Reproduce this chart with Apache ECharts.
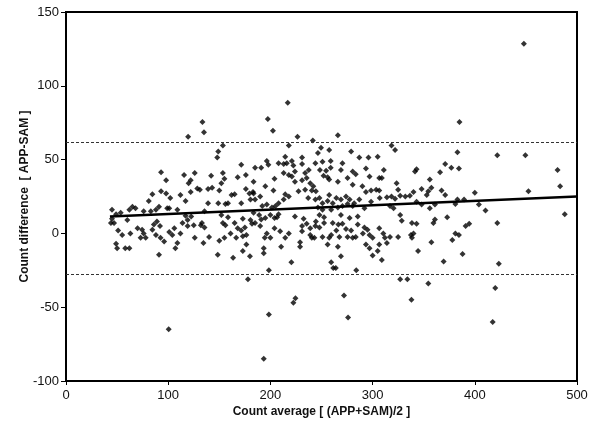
<!DOCTYPE html>
<html>
<head>
<meta charset="utf-8">
<script src="https://cdn.jsdelivr.net/npm/echarts@6/dist/echarts.min.js"></script>
<style>
  html, body { margin: 0; padding: 0; background: #fff; }
  #chart { width: 595px; height: 433px; }
</style>
</head>
<body>
<div id="chart"></div>
<script>
// Bland-Altman: APP vs SAM

// points: [count average, count difference]
var points = [
    // far left cluster
    [45,16],[49,13],[53.5,14],[45,10],[44,7],[47,7],[51,2],[55,-1],[49,-7],[50,-10],[58,-10],
    // 60 - 120
    [93,41.5],[98,36],[115.5,39.5],[120,34],[93,28.5],[98,27],[84.5,26.5],[102,24],[81,22],[112,26],
    [117,22],[91,18],[99,17],[101,17],[62,16],[65,18],[68,17],[76,15],[83,15],[88,16],[109,16],[117,12],
    [60,9],[70,3.5],[63,0],[74.5,2.5],[76,0],[73,-3],[78,-3],[84.5,2.5],[86,6],[89,8],[92,5],[88,-1],
    [92.5,-3],[96,-5.5],[101,1],[104,-1],[106,3.5],[109,-6.5],[107,-10],[112,0],[114,7],[119,5],
    [62,-10],[91,-14.5],[119,9],
    // 120 - 185
    [153.5,59.5],[149,55.5],[148,51.5],[171.5,46.5],[126,41],[122,36],[142,39],[153.5,41],[155,37],
    [152,34],[168,38],[176,39.5],[128.5,30.5],[131,29.5],[122,28],[139,30],[143,31],[150,29],[162,26],
    [165,26.5],[176,30],[179.5,27],[183,28],[180.5,23],[139,20.5],[149,20.5],[156,20],[158.5,20.5],
    [171.5,20.5],[135.5,15],[122.5,11.5],[125,5.5],[133,7],[132,5.5],[135.5,4],[152,12.5],[158.5,11],
    [153.5,7],[156,5.5],[165,7],[173,10],[168,3.5],[171.5,2],[180.5,9],[182,6.5],[126,-3],[134.5,-6.5],
    [140,-2.5],[150,-5],[155,-3],[161,0],[166.5,-3],[173,-2],[175,4],[176.5,-1],[148.5,-14.5],
    [163.5,-16.5],[173,-12],[180,-15.5],[176.5,-7.5],
    // 185 - 245
    [218,59.5],[214.5,52],[208,47.5],[213,47],[216,47.5],[221,49],[231,51.5],[196.5,49],[198,46.5],
    [185,44.5],[191,44.5],[222.5,46],[231,47],[237.5,43],[244,47.5],[213,41],[218,39.5],[221,38.5],
    [224,42],[234,41],[231,36],[183.5,35],[204,37],[195,32],[224,35],[235.5,37.5],[239,34],[242,32],
    [203,29],[183.5,27],[190,25],[185,23],[227.5,28.5],[234,29.5],[240.5,29],[237,24],[244,23],
    [214.5,26.5],[218,25],[213,23],[208,20.5],[205,18.5],[192,18.5],[196.5,19.5],[201.5,17.5],
    [183.5,14],[189,12.5],[195,10.5],[191,9.5],[185,7],[200,12.5],[206.5,11],[208,13],[204,10.5],
    [224,11.5],[232.5,10],[235.5,6.5],[231,5],[239,3.5],[244,5],[190,5],[196.5,0],[194.5,-3],
    [204,3.5],[209.5,1.5],[218,0],[214.5,-3],[231,1.5],[239,-1],[240.5,-3],[200,-3],[210.5,-9],
    [229,-6],[229,-9],[243,-3],[193.5,-10],[193.5,-13.5],[220.5,-19.5],
    // 245 - 308
    [249.5,58],[257.5,56.5],[246.5,54.5],[279,55.5],[287,51.5],[296,51.5],[305,52],[251,48.5],
    [259,49],[259,44.5],[269,43],[270.5,47.5],[248.5,43],[254.5,42.5],[252,39],[256,38],[257.5,36.5],
    [275.5,37.5],[280.5,42],[283.5,40],[293.5,44],[297,38.5],[306.5,37.5],[266,35],[244.5,28.5],
    [248,24],[280.5,33],[290,32],[293.5,28],[298.5,29],[303.5,29.5],[306.5,29],[257.5,26],[264.5,24],
    [269,23],[274,25],[277.5,23],[282,20.5],[287,23],[298.5,21.5],[251,20.5],[256,22],[261,20.5],
    [246.5,17.5],[251,16],[259.5,16],[266,17.5],[270.5,18.5],[275.5,20],[280.5,18.5],[292,17],
    [248,12.5],[252.5,11],[244.5,8],[269,12.5],[277.5,10.5],[285.5,11.5],[248,4],[252.5,7],[261,7],
    [266.5,6],[270.5,6.5],[264.5,2],[259.5,-1],[274,3],[279,2],[285.5,6],[292,4],[295,2.5],[290.5,0],
    [297,-1],[300,-3],[251,-2.5],[257.5,-3],[267.5,-2.5],[275.5,-2.5],[280.5,-3],[283.5,-2.5],
    [306.5,3.5],[256,-7.5],[266,-9],[293.5,-7.5],[297,-10],[306.5,-7.5],[305,-12],[269,-15.5],
    [259.5,-19.5],[300,-15],
    // 308 - 372
    [318.5,59.5],[322,56.5],[341.5,42],[343,43.5],[366,41.5],[371,47],[311,43],[309,37.5],[323.5,34],
    [325,29.5],[340,28],[348,30],[356,36.5],[354.5,28.5],[357.5,31],[353,26],[367.5,29],[371,26],
    [307,24],[314,24.5],[318.5,25],[322,23.5],[327,25.5],[332,25],[336.5,25.5],[317,18.5],[320.5,17],
    [343,21.5],[348,19.5],[356,17],[361,19.5],[327,12.5],[328.5,8.5],[338.5,7],[343,6.5],[361,9.5],
    [359.5,7],[310.5,0],[312,-3],[317,-2.5],[314,-6.5],[325,-2.5],[337.5,-1],[338.5,-3],[340,0],
    [357.5,-6],[344.5,-12],[309,-18],[369.5,-19],
    // 372 - 430
    [383,55],[422,53],[377,44.5],[384.5,44],[383,23],[389.5,23],[400,27.5],[404,19.5],[410.5,15.5],
    [381,20],[373,11],[422,7],[391,5],[394.5,6.5],[381,0],[384.5,-1],[378,-4.5],[388,-14],[423.5,-20.5],
    // right end
    [449.5,53],[481,43],[452.5,28.5],[483.5,32],[488,13],
    // above the upper limit
    [448,128.5],[119.5,65.5],[133.5,75.5],[135,68.5],[197.5,77.5],[202.5,69.5],[217,88.5],[226.5,65.5],
    [241.5,63],[266,66.5],[385,75.5],
    // below the lower limit
    [198.5,-25],[261.5,-23.5],[264,-23.5],[284,-25],[178,-31],[327,-31],[334,-31],[354.5,-34],
    [420,-37],[272,-42],[224.5,-44],[222.5,-47],[338,-45],[198.5,-55],[276,-57],[417.5,-60],
    [100.5,-65],[193.5,-85]
];

// regression line ends
var trendLine = [[43, 11.5], [500, 25]];
// limits of agreement
var upperLimit = 61.6;
var lowerLimit = -27.6;

var xTicks = [0, 100, 200, 300, 400, 500];
var yTicks = [-100, -50, 0, 50, 100, 150];

var myChart = echarts.init(document.getElementById('chart'));
var txt = { color: '#111', fontFamily: 'Liberation Sans', fontSize: 13 };

var option = {
    animation: false,
    backgroundColor: '#fff',
    grid: {
        left: 66, right: 18, top: 12, bottom: 52,
        show: true, borderColor: '#000', borderWidth: 2
    },
    xAxis: {
        type: 'value',
        min: xTicks[0], max: xTicks[xTicks.length - 1], interval: 100,
        name: 'Count average [ (APP+SAM)/2 ]',
        nameLocation: 'middle', nameGap: 25,
        nameMoveOverlap: false,
        nameTextStyle: { color: '#111', fontFamily: 'Liberation Sans', fontSize: 12, fontWeight: 'bold' },
        axisLine: { show: true, onZero: false, lineStyle: { color: '#000', width: 2 } },
        axisTick: { show: true, length: 4, lineStyle: { color: '#000' } },
        axisLabel: Object.assign({ margin: 8 }, txt),
        splitLine: { show: false }
    },
    yAxis: {
        type: 'value',
        min: yTicks[0], max: yTicks[yTicks.length - 1], interval: 50,
        name: 'Count difference  [ APP-SAM ]',
        nameLocation: 'middle', nameGap: 35,
        nameMoveOverlap: false,
        nameTextStyle: { color: '#111', fontFamily: 'Liberation Sans', fontSize: 12, fontWeight: 'bold' },
        axisLine: { show: true, lineStyle: { color: '#000', width: 2 } },
        axisTick: { show: true, length: 5, lineStyle: { color: '#000' } },
        axisLabel: Object.assign({ margin: 7 }, txt),
        splitLine: { show: false }
    },
    series: [
        {
            type: 'scatter',
            data: points,
            symbol: 'diamond',
            symbolSize: 6,
            itemStyle: { color: '#000' },
            markLine: {
                silent: true,
                symbol: 'none',
                label: { show: false },
                lineStyle: { color: '#333', width: 1.2, type: [3, 2] },
                data: [{ yAxis: upperLimit }, { yAxis: lowerLimit }]
            }
        },
        {
            type: 'line',
            data: trendLine,
            symbol: 'none',
            lineStyle: { color: '#000', width: 2.5 }
        }
    ]
};
myChart.setOption(option);
</script>
</body>
</html>
